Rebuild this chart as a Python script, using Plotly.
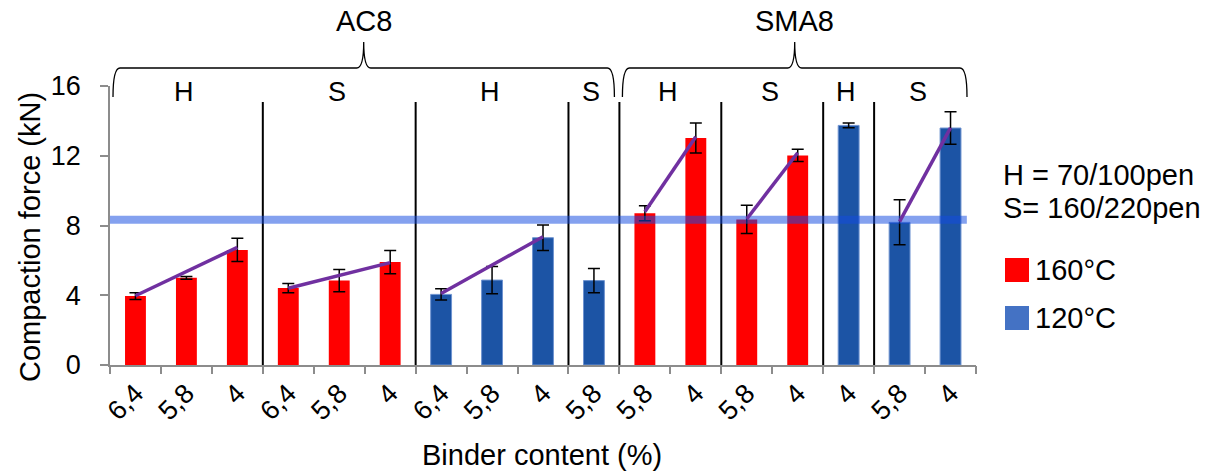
import plotly.graph_objects as go

# ---------------- data ----------------
binder_labels = ["6,4", "5,8", "4", "6,4", "5,8", "4", "6,4", "5,8", "4", "5,8",
                 "5,8", "4", "5,8", "4", "4", "5,8", "4"]
force_values = [3.95, 5.0, 6.6, 4.41, 4.84, 5.9, 4.05, 4.87, 7.3, 4.84,
                8.7, 13.02, 8.35, 12.02, 13.74, 8.18, 13.59]
force_errors = [0.2, 0.08, 0.67, 0.26, 0.64, 0.67, 0.32, 0.78, 0.73, 0.7,
                0.43, 0.86, 0.81, 0.35, 0.14, 1.29, 0.93]
temperatures = ["160", "160", "160", "160", "160", "160", "120", "120", "120", "120",
                "160", "160", "160", "160", "120", "120", "120"]

groups = ["H", "S", "H", "S", "H", "S", "H", "S"]
group_sizes = [3, 3, 3, 1, 2, 2, 1, 2]
mixes = ["AC8", "SMA8"]
mix_group_counts = [4, 4]

trend_start = [0, 3, 6, 10, 12, 15]
trend_end = [2, 5, 8, 11, 13, 16]
trend_y0 = [3.97, 4.4, 4.1, 8.79, 8.37, 8.22]
trend_y1 = [6.75, 5.87, 7.36, 13.09, 12.17, 13.6]

threshold = 8.33
legend_notes = ["H = 70/100pen", "S= 160/220pen"]
legend_temps = ["160°C", "120°C"]

# ---------------- styles ----------------
FONT = "Arial, Liberation Sans, sans-serif"
FS = 29      # annotation text
FS_TICK = 27
FS_GRP = 27
RED = "#ff0000"
BLUE_BAR = "#1c54a5"
BLUE_LEG = "#4472c4"
PURPLE = "#7030a0"
GREY = "#8c8c8c"
col_map = {"160": RED, "120": BLUE_BAR}

W, H = 1209, 475
PL, PR, PT, PB = 110, 976, 86, 365          # plot area edges (pixels)
L, T, R, B = PL, PT, W - PR, H - PB
PW, PH = PR - PL, PB - PT
n = len(force_values)


def px(X):
    return (X - PL) / PW


def py(Y):
    return (PB - Y) / PH


def cat2paper(c):
    return (c + 0.5) / n


fig = go.Figure()

xs = list(range(n))
fig.add_trace(go.Bar(
    x=xs, y=force_values, width=0.41,
    marker=dict(color=[col_map[t] for t in temperatures],
                line=dict(color=["rgba(0,0,0,0)" if t == "160" else "#6f93d0" for t in temperatures],
                          width=1)),
    error_y=dict(type="data", array=force_errors, color="black", thickness=1.5, width=6),
    showlegend=False, hoverinfo="skip",
))

# threshold line (spans to brace end)
fig.add_trace(go.Scatter(
    x=[-0.5, 16.32], y=[threshold, threshold], mode="lines",
    line=dict(color="rgba(20,75,225,0.52)", width=8),
    showlegend=False, hoverinfo="skip",
))

for s, e, a, b in zip(trend_start, trend_end, trend_y0, trend_y1):
    fig.add_trace(go.Scatter(
        x=[s, e], y=[a, b], mode="lines",
        line=dict(color=PURPLE, width=3.5),
        showlegend=False, hoverinfo="skip",
    ))

# invisible trace carrying the boundary-ticks axis
fig.add_trace(go.Scatter(x=[-0.5, n - 0.5], y=[0, 0], xaxis="x2", mode="markers",
                         marker=dict(opacity=0), showlegend=False, hoverinfo="skip"))

shapes = []
annotations = []

# separators and group labels
pos = 0
bounds = []
for g, sz in zip(groups, group_sizes):
    start = pos
    pos += sz
    bounds.append((start, pos))
for (s, e) in bounds:
    if 0 < e < n:
        shapes.append(dict(type="line", xref="x", yref="paper", x0=e - 0.5, x1=e - 0.5,
                           y0=0, y1=py(102), line=dict(color="black", width=2), layer="below"))
for (s, e), g in zip(bounds, groups):
    left = s - 0.5
    right = e - 0.5 if e < n else 16.32
    annotations.append(dict(text=g, x=(left + right) / 2 - 0.05, xref="x", y=py(92), yref="paper",
                            showarrow=False, xanchor="center", yanchor="middle",
                            font=dict(size=FS_GRP, color="black", family=FONT)))

# braces
y_line, y_hook, y_tip = py(68), py(97), py(42)
gi = 0
for mix, cnt in zip(mixes, mix_group_counts):
    s = bounds[gi][0]
    e = bounds[gi + cnt - 1][1]
    gi += cnt
    x0 = cat2paper(s - 0.5) + 3 / PW
    x1 = cat2paper(e - 0.5) - 5 / PW if e < n else px(967)
    xm = (x0 + x1) / 2
    d = 7 / PW
    path = (f"M {x0},{y_hook} Q {x0},{y_line} {x0 + d},{y_line} L {xm - d},{y_line} "
            f"Q {xm},{y_line} {xm},{y_tip} Q {xm},{y_line} {xm + d},{y_line} "
            f"L {x1 - d},{y_line} Q {x1},{y_line} {x1},{y_hook}")
    shapes.append(dict(type="path", xref="paper", yref="paper", path=path,
                       line=dict(color="black", width=1.3)))
    annotations.append(dict(text=mix, x=xm, xref="paper", y=py(21), yref="paper",
                            showarrow=False, xanchor="center", yanchor="middle",
                            font=dict(size=FS, color="black", family=FONT)))

# axis titles
annotations.append(dict(text="Compaction force (kN)", x=px(30), xref="paper", y=py(237), yref="paper",
                        textangle=-90, showarrow=False, xanchor="center", yanchor="middle",
                        font=dict(size=FS, color="black", family=FONT)))
annotations.append(dict(text="Binder content (%)", x=px(542), xref="paper", y=py(455), yref="paper",
                        showarrow=False, xanchor="center", yanchor="middle",
                        font=dict(size=FS, color="black", family=FONT)))

# manual legend
for txt, yy in zip(legend_notes, [175, 208]):
    annotations.append(dict(text=txt, x=px(1001), xref="paper", y=py(yy), yref="paper",
                            showarrow=False, xanchor="left", yanchor="middle",
                            font=dict(size=FS, color="black", family=FONT)))
for txt, colr, yy in zip(legend_temps, [RED, BLUE_LEG], [270, 318]):
    shapes.append(dict(type="rect", xref="paper", yref="paper",
                       x0=px(1005), x1=px(1029), y0=py(yy + 12), y1=py(yy - 12),
                       fillcolor=colr, line=dict(width=0)))
    annotations.append(dict(text=txt, x=px(1033), xref="paper", y=py(yy), yref="paper",
                            showarrow=False, xanchor="left", yanchor="middle",
                            font=dict(size=FS, color="black", family=FONT)))

fig.update_layout(
    width=W, height=H,
    margin=dict(l=L, r=R, t=T, b=B, pad=0),
    plot_bgcolor="white", paper_bgcolor="white",
    showlegend=False,
    hovermode=False,
    font=dict(family=FONT, size=FS, color="black"),
    xaxis=dict(range=[-0.5, n - 0.5], tickvals=xs, ticktext=binder_labels, tickangle=-45,
               ticks="", showline=True, linecolor=GREY, linewidth=1.5, showgrid=False,
               zeroline=False, tickfont=dict(size=FS_TICK, family=FONT, color="black"),
               fixedrange=True),
    xaxis2=dict(range=[-0.5, n - 0.5], overlaying="x", anchor="y", side="bottom",
                tickvals=[i - 0.5 for i in range(n + 1)], ticks="outside", ticklen=8,
                tickcolor=GREY, tickwidth=1.5, showticklabels=False, showline=False,
                showgrid=False, zeroline=False),
    yaxis=dict(range=[0, 16], tickvals=[0, 4, 8, 12, 16], ticks="outside", ticklen=8,
               tickcolor=GREY, tickwidth=1.5, showline=True, linecolor=GREY, linewidth=1.5,
               showgrid=False, zeroline=False, ticklabelstandoff=14,
               tickfont=dict(size=FS_TICK, family=FONT, color="black")),
    shapes=shapes, annotations=annotations,
)

fig.write_html("out.html", config={"displayModeBar": False},
               post_script="document.body.style.margin='0';document.body.style.overflow='hidden';")
